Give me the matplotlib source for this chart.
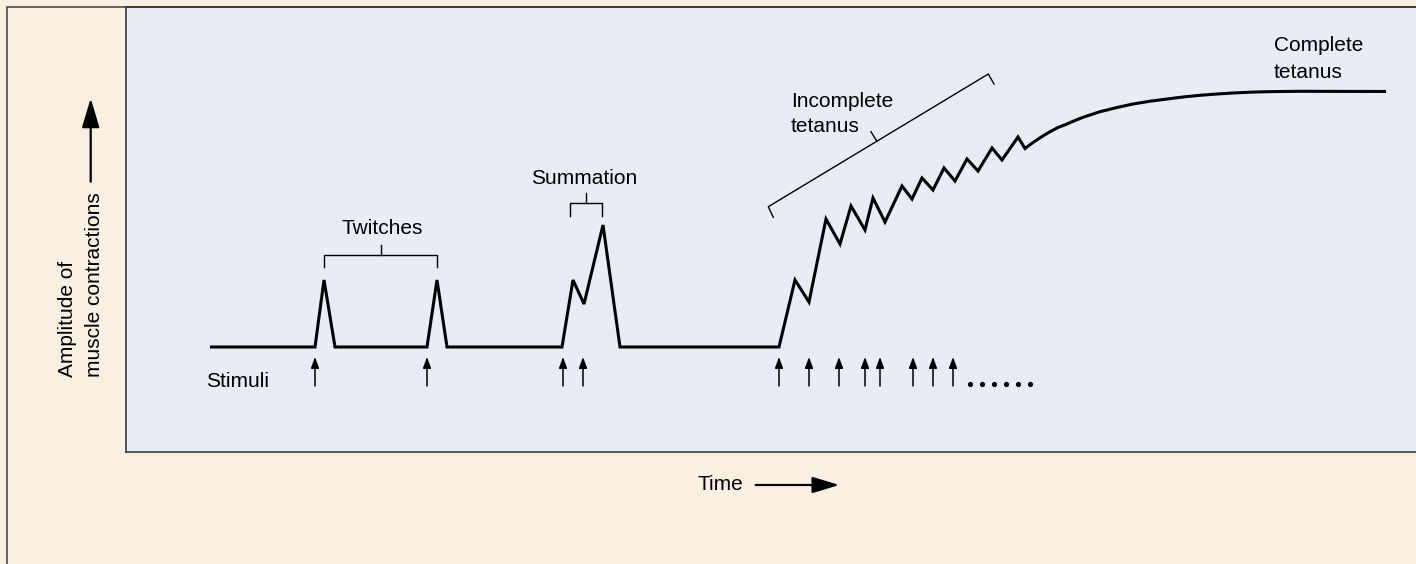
import matplotlib
matplotlib.use("Agg")
import matplotlib.pyplot as plt
from matplotlib.patches import FancyArrowPatch, Rectangle

plt.rcParams['font.family'] = ['Liberation Sans', 'DejaVu Sans']

# ---- data (time in drawing units, amplitude relative to resting baseline) ----
trace_time = [210, 315, 324, 335, 427, 437, 447, 562, 573, 584, 603, 620,
              779, 795, 809, 826, 840, 851, 865, 873, 885, 902, 912, 922,
              933, 944, 955, 967, 978, 992, 1002, 1018, 1025,
              1033, 1042, 1050, 1058, 1067, 1075, 1083, 1092, 1100, 1117,
              1133, 1150, 1167, 1183, 1200, 1217, 1233, 1250, 1267, 1300, 1386]
trace_amp = [0, 0, 67, 0, 0, 67, 0, 0, 67, 43, 122, 0,
             0, 67, 45, 128, 103, 141, 117, 149, 125, 161, 148, 169,
             157, 179, 166, 188, 176, 199, 187, 210, 198.5,
             204.5, 210.5, 215.3, 219.5, 223, 226.5, 229.7, 232.7, 235.3, 239.5,
             243, 245.8, 248, 250, 251.7, 253, 254, 254.8, 255.3, 255.7, 255.5]
stimuli_time = [315, 427, 563, 583, 779, 809, 839, 865, 880, 913, 933, 953]
ellipsis_time = [970, 982, 994, 1006, 1018, 1030]

CREAM = '#FAF0E1'
PANEL = '#E8ECF5'
EDGE = '#3a3a3a'

fig = plt.figure(figsize=(14.16, 5.64), dpi=100, facecolor=CREAM)
W, H = 1416, 564

# outer frame (left + top border)
fig.patches.append(Rectangle((7 / W, -0.1), 1.2, 0.1 + (H - 7) / H,
                             transform=fig.transFigure, facecolor='none',
                             edgecolor=EDGE, lw=1.1))

ax = fig.add_axes([126 / W, (H - 452) / H, (W - 126) / W, (452 - 7) / H])
ax.set_facecolor(PANEL)
ax.set_xlim(126, 1416)
ax.set_ylim(-105, 340)
ax.set_xticks([])
ax.set_yticks([])
for s in ['left', 'top', 'bottom']:
    ax.spines[s].set_color(EDGE)
    ax.spines[s].set_linewidth(1.2)
ax.spines['right'].set_visible(False)

# muscle trace
ax.plot(trace_time, trace_amp, color='black', lw=2.2, solid_joinstyle='miter',
        solid_capstyle='butt', clip_on=False)

# stimuli arrows
for t in stimuli_time:
    ax.add_patch(FancyArrowPatch((t, -39), (t, -10),
                                 arrowstyle='-|>,head_length=6.5,head_width=2.4',
                                 mutation_scale=1, lw=1.1, color='black',
                                 shrinkA=0, shrinkB=0))
ax.plot(ellipsis_time, [-37] * len(ellipsis_time), 'o', color='black', ms=2.7)

FS = 15
ax.text(206, -40, 'Stimuli', fontsize=FS, ha='left', va='baseline')

# twitches bracket
ax.plot([324.3, 324.3, 436.7, 436.7], [80.3, 92, 92, 80.3], color='black', lw=1.0)
ax.plot([380.7, 380.7], [92, 102], color='black', lw=1.0)
ax.text(382, 112.7, 'Twitches', fontsize=FS, ha='center', va='baseline')

# summation bracket
ax.plot([570.3, 570.3, 601.7, 601.7], [131.3, 143.7, 143.7, 131.3], color='black', lw=1.0)
ax.plot([585.7, 585.7], [143.7, 154.3], color='black', lw=1.0)
ax.text(584.5, 162.7, 'Summation', fontsize=FS, ha='center', va='baseline')

# incomplete tetanus bracket
ax.plot([773.3, 768.3, 988.3, 994], [129.7, 140.3, 273, 263], color='black', lw=1.0)
ax.plot([876.7, 871], [206, 215.3], color='black', lw=1.0)
ax.text(790.7, 240, 'Incomplete', fontsize=FS, ha='left', va='baseline')
ax.text(790.7, 215, 'tetanus', fontsize=FS, ha='left', va='baseline')

# complete tetanus
ax.text(1274, 296, 'Complete', fontsize=FS, ha='left', va='baseline')
ax.text(1274, 269.5, 'tetanus', fontsize=FS, ha='left', va='baseline')

# y axis label with arrow
ax.text(73, -30, 'Amplitude of', fontsize=FS, rotation=90, rotation_mode='anchor',
        ha='left', va='baseline', clip_on=False)
ax.text(100, -30, 'muscle contractions', fontsize=FS, rotation=90, rotation_mode='anchor',
        ha='left', va='baseline', clip_on=False)
ya = FancyArrowPatch((90.7, 165.3), (90.7, 248.7),
                     arrowstyle='-|>,head_length=18,head_width=5.4',
                     mutation_scale=1, lw=1.6, color='black', shrinkA=0, shrinkB=0,
                     clip_on=False)
ax.add_patch(ya)

# x axis label with arrow
ax.text(697.7, -143, 'Time', fontsize=FS, ha='left', va='baseline', clip_on=False)
xa = FancyArrowPatch((755.7, -138), (839.3, -138),
                     arrowstyle='-|>,head_length=16.5,head_width=5',
                     mutation_scale=1, lw=1.6, color='black', shrinkA=0, shrinkB=0,
                     clip_on=False)
ax.add_patch(xa)

fig.savefig('out.png', dpi=100, facecolor=CREAM)
